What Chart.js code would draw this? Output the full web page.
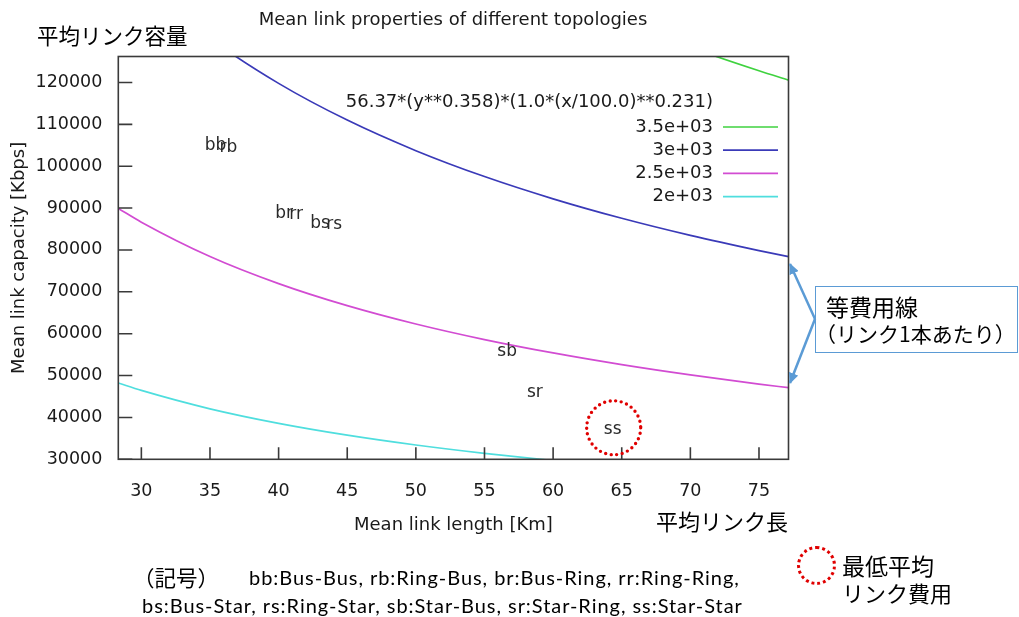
<!DOCTYPE html>
<html>
<head>
<meta charset="utf-8">
<script src="https://cdn.jsdelivr.net/npm/chart.js@4.4.1/dist/chart.umd.min.js"></script>
<style>
body{margin:0;background:#fff;}
#wrap{position:relative;width:1019px;height:617px;overflow:hidden;background:#fff;}
#wrap canvas{position:absolute;left:0;top:0;}
.jp{position:absolute;font-family:"Noto Sans CJK JP";color:#000;white-space:nowrap;line-height:1;}
.note{position:absolute;font-family:Lato,"Noto Sans CJK JP";color:#000;white-space:nowrap;line-height:1;font-size:20px;letter-spacing:0.95px;}
.ring{position:absolute;border:3px dotted #e00000;border-radius:50%;box-sizing:border-box;}
#callout{position:absolute;left:815px;top:286px;width:203px;height:67px;border:1.5px solid #5b9bd5;box-sizing:border-box;}
</style>
</head>
<body>
<div id="wrap">
<canvas id="myChart" width="1019" height="617"></canvas>

<div class="jp" style="left:37px;top:24px;font-size:21.5px;">平均リンク容量</div>
<div class="jp" style="left:656px;top:509px;font-size:22px;">平均リンク長</div>

<svg width="1019" height="617" style="position:absolute;left:0;top:0;">
  <defs>
    <marker id="ah" markerWidth="11" markerHeight="10" refX="10" refY="5" orient="auto" markerUnits="userSpaceOnUse">
      <path d="M0,0 L11,5 L0,10 z" fill="#5b9bd5"/>
    </marker>
  </defs>
  <line x1="815" y1="319" x2="790" y2="264" stroke="#5b9bd5" stroke-width="2.5" marker-end="url(#ah)"/>
  <line x1="815" y1="319" x2="790" y2="383" stroke="#5b9bd5" stroke-width="2.5" marker-end="url(#ah)"/>
</svg>
<div id="callout"></div>
<div class="jp" style="left:826px;top:295px;font-size:23px;">等費用線</div>
<div class="jp" style="left:815px;top:323px;font-size:21px;">（リンク1本あたり）</div>

<div class="note" style="left:133px;top:566px;letter-spacing:0;"><span style="font-family:'Noto Sans CJK JP';font-size:21.5px;">（記号）</span></div>
<div class="note" style="left:249px;top:567px;">bb:Bus-Bus, rb:Ring-Bus, br:Bus-Ring, rr:Ring-Ring,</div>
<div class="note" style="left:142px;top:595px;">bs:Bus-Star, rs:Ring-Star, sb:Star-Bus, sr:Star-Ring, ss:Star-Star</div>

<div class="ring" style="left:797px;top:546px;width:39px;height:39px;"></div>
<div class="jp" style="left:842px;top:554px;font-size:23px;">最低平均</div>
<div class="jp" style="left:842px;top:581px;font-size:22px;">リンク費用</div>
</div>

<script>
// x values where the contour curves were read (Km)
var lengthKm = [28.32, 30, 35, 40, 45, 50, 55, 60, 65, 70, 75, 77.15];
// mean link capacity (Kbps) along each equal-cost curve
var cost3500 = [null, null, null, null, null, null, null, null, 134661, 128379, 122790, 120566];
var cost3000 = [149670, 144207, 130553, 119778, 111011, 103710, 97524, 92205, 87557, 83472, 79838, 78393];
var cost2500 = [89923, 86640, 78437, 71963, 66696, 62310, 58593, 55398, 52605, 50151, 47967, 47099];
var cost2000 = [48214, 46454, 42055, 38584, 35761, 33409, 31416, 29702, 28205, 26889, 25719, 25253];

var levelNames = ['3.5e+03', '3e+03', '2.5e+03', '2e+03'];
var levelColors = ['#3fd23f', '#3a3ab8', '#d24cd2', '#4fdede'];
var funcLabel = '56.37*(y**0.358)*(1.0*(x/100.0)**0.231)';

// topology points
var topoCodes = ['bb', 'rb', 'br', 'rr', 'bs', 'rs', 'sb', 'sr', 'ss'];
var topoLength = [35.40, 36.35, 40.40, 41.27, 43.02, 44.04, 56.65, 58.67, 64.34];
var topoCapacity = [104900, 104400, 88800, 88400, 86400, 86000, 55800, 45920, 37170];

var xTicks = [30, 35, 40, 45, 50, 55, 60, 65, 70, 75];
var yTicks = [30000, 40000, 50000, 60000, 70000, 80000, 90000, 100000, 110000, 120000];

var textColor = '#1a1a1a';
var fontFam = '"DejaVu Sans", sans-serif';

function curve(vals) {
  var pts = [];
  for (var i = 0; i < lengthKm.length; i++) {
    if (vals[i] != null) pts.push({x: lengthKm[i], y: vals[i]});
  }
  return pts;
}

var curves = [cost3500, cost3000, cost2500, cost2000];
var datasets = [];
for (var i = 0; i < curves.length; i++) {
  datasets.push({
    type: 'line',
    label: levelNames[i],
    data: curve(curves[i]),
    borderColor: levelColors[i],
    borderWidth: 1.7,
    pointRadius: 0,
    fill: false,
    cubicInterpolationMode: 'monotone'
  });
}
var topoPts = [];
for (var i = 0; i < topoCodes.length; i++) topoPts.push({x: topoLength[i], y: topoCapacity[i]});
datasets.push({type: 'scatter', label: 'topologies', data: topoPts, pointRadius: 0, showLine: false});

// gnuplot look: frame, inward ticks, key, point labels
var gnuplotBits = {
  id: 'gnuplotBits',
  afterDatasetsDraw: function(chart) {
    var ctx = chart.ctx;
    var a = chart.chartArea;
    var xs = chart.scales.x, ys = chart.scales.y;
    ctx.save();

    // point labels
    ctx.fillStyle = '#2a2a2a';
    ctx.font = '17px ' + fontFam;
    ctx.textAlign = 'center';
    ctx.textBaseline = 'middle';
    var meta = chart.getDatasetMeta(chart.data.datasets.length - 1);
    meta.data.forEach(function(el, i) {
      ctx.fillText(topoCodes[i], el.x, el.y);
    });

    // key
    ctx.fillStyle = textColor;
    ctx.textAlign = 'right';
    ctx.font = '18px ' + fontFam;
    ctx.fillText(funcLabel, 713, 102);
    for (var k = 0; k < levelNames.length; k++) {
      var ky = 127 + k * 23.2;
      ctx.fillStyle = textColor;
      ctx.fillText(levelNames[k], 713, ky);
      ctx.strokeStyle = levelColors[k];
      ctx.lineWidth = 1.7;
      ctx.beginPath();
      ctx.moveTo(723, ky);
      ctx.lineTo(778, ky);
      ctx.stroke();
    }

    // frame
    ctx.strokeStyle = '#3a3a3a';
    ctx.lineWidth = 1.6;
    ctx.strokeRect(a.left, a.top, a.right - a.left, a.bottom - a.top);

    // inward ticks
    ctx.beginPath();
    xTicks.forEach(function(v) {
      var px = xs.getPixelForValue(v);
      ctx.moveTo(px, a.bottom);
      ctx.lineTo(px, a.bottom - 12);
    });
    yTicks.forEach(function(v) {
      var py = ys.getPixelForValue(v);
      ctx.moveTo(a.left, py);
      ctx.lineTo(a.left + 14, py);
    });
    ctx.stroke();

    // title
    ctx.fillStyle = textColor;
    ctx.textAlign = 'center';
    ctx.font = '18px ' + fontFam;
    ctx.fillText('Mean link properties of different topologies', 453, 20);

    // lowest cost marker around ss
    var ss = meta.data[topoCodes.indexOf('ss')];
    ctx.strokeStyle = '#e00000';
    ctx.lineWidth = 3.4;
    ctx.setLineDash([0, 5.6]);
    ctx.lineCap = 'round';
    ctx.beginPath();
    ctx.arc(ss.x + 1, ss.y - 1.5, 27, 0, Math.PI * 2);
    ctx.stroke();
    ctx.restore();
  }
};

function fixedTicks(list) {
  return function(scale) {
    scale.ticks = list.map(function(v) { return {value: v}; });
  };
}

var ctx = document.getElementById('myChart').getContext('2d');
var myChart = new Chart(ctx, {
  type: 'scatter',
  data: {datasets: datasets},
  options: {
    responsive: false,
    animation: false,
    layout: {padding: {left: 0, top: 56.5, right: 230.5, bottom: 77.7}},
    plugins: {legend: {display: false}, tooltip: {enabled: false}, title: {display: false}},
    scales: {
      x: {
        type: 'linear',
        min: 28.32,
        max: 77.15,
        afterFit: function(scale) { scale.height = 80; },
        afterBuildTicks: fixedTicks(xTicks),
        grid: {display: false, drawTicks: false},
        border: {display: false},
        ticks: {
          autoSkip: false,
          padding: 22,
          color: textColor,
          font: {family: fontFam, size: 17.5},
          maxRotation: 0,
          callback: function(v) { return String(v); }
        },
        title: {display: true, text: 'Mean link length [Km]', color: textColor, font: {family: fontFam, size: 18}, padding: {top: 0, bottom: 3}}
      },
      y: {
        type: 'linear',
        min: 30000,
        max: 126200,
        afterFit: function(scale) { scale.width = 118.3; },
        afterBuildTicks: fixedTicks(yTicks),
        grid: {display: false, drawTicks: false},
        border: {display: false},
        ticks: {
          autoSkip: false,
          padding: 16,
          color: textColor,
          font: {family: fontFam, size: 17.5},
          callback: function(v) { return String(v); }
        },
        title: {display: true, text: 'Mean link capacity [Kbps]', color: textColor, font: {family: fontFam, size: 18}, padding: {top: 9, bottom: 0}}
      }
    }
  },
  plugins: [gnuplotBits]
});
</script>
</body>
</html>
